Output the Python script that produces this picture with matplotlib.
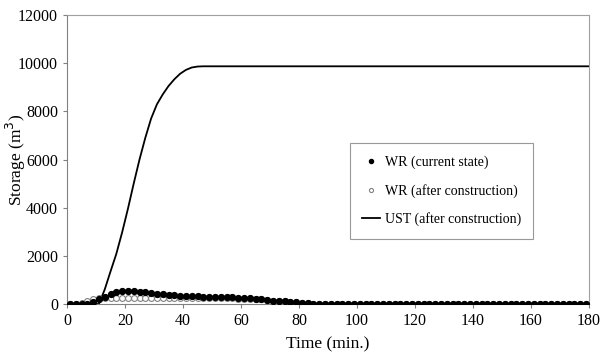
# Storage hydrograph: WR (current / after construction) and UST

import numpy as np
import matplotlib
matplotlib.use("Agg")
import matplotlib.pyplot as plt

plt.rcParams["font.family"] = ["Liberation Serif", "DejaVu Serif"]

# time steps (min.), every 2 minutes
time = np.arange(1, 180, 2)

# WR (current state), storage in m3
wr_current = [0, 0, 0, 10, 90, 200, 310, 420, 490, 520,
              530, 525, 510, 490, 465, 435, 405, 380, 360, 345,
              335, 325, 315, 310, 305, 300, 295, 285, 275, 265,
              255, 240, 220, 195, 170, 145, 125, 105, 85, 65,
              45, 30, 20, 10, 5] + [0] * 45

# WR (after construction)
wr_after = [0, 0, 40, 140, 200, 240, 255, 258, 260, 262,
            262, 262, 262, 260, 260, 258, 258, 256, 255, 255,
            254, 252, 250, 248, 246, 244, 240, 236, 232, 228,
            222, 215, 205, 190, 170, 145, 125, 105, 85, 65,
            45, 30, 20, 10, 5] + [0] * 45

# UST (after construction)
ust_time = [0, 9, 11, 13, 15, 17, 19, 21, 23, 25, 27, 29, 31, 33,
            35, 37, 39, 41, 43, 45, 47, 180]
ust_after = [0, 0, 0, 600, 1350, 2080, 2970, 3950, 5000, 6000, 6900, 7700,
             8290, 8700, 9050, 9330, 9560, 9720, 9820, 9860, 9870, 9870]

fig = plt.figure(figsize=(6.02, 3.53), dpi=100)
ax = fig.add_axes([0.1113, 0.1388, 0.8671, 0.8187])

ax.plot(time, wr_after, "o", ms=4.2, mfc="white", mec="#808080", mew=0.8,
        label="WR (after construction)", zorder=3)
ax.plot(time, wr_current, "o", ms=4.2, color="black",
        label="WR (current state)", zorder=4)
ax.plot(ust_time, ust_after, "-", color="black", lw=1.3,
        label="UST (after construction)", zorder=2)

ax.set_xlim(0, 180)
ax.set_ylim(0, 12000)
ax.set_xticks(range(0, 181, 20))
ax.set_yticks(range(0, 12001, 2000))
ax.tick_params(direction="out", length=3, width=0.8, labelsize=11.5,
               color="#808080")

for side in ["left", "bottom"]:
    ax.spines[side].set_color("#808080")
for side in ["top", "right"]:
    ax.spines[side].set_color("#a0a0a0")

ax.set_xlabel("Time (min.)", fontsize=12.5, labelpad=5)
ax.set_ylabel("Storage (m$^3$)", fontsize=12.5)
ax.yaxis.set_label_coords(-0.074, 0.5)

# legend order as in reference
h, l = ax.get_legend_handles_labels()
order = [1, 0, 2]
leg = ax.legend([h[i] for i in order], [l[i] for i in order],
                loc="upper left", bbox_to_anchor=(0.542, 0.557),
                fontsize=10, frameon=True, fancybox=False,
                edgecolor="#808080", labelspacing=1.05, handlelength=1.3,
                handletextpad=0.3, borderpad=0.9, borderaxespad=0,
                markerscale=0.7)
leg.get_frame().set_linewidth(0.8)

fig.savefig("out.png", dpi=100)
